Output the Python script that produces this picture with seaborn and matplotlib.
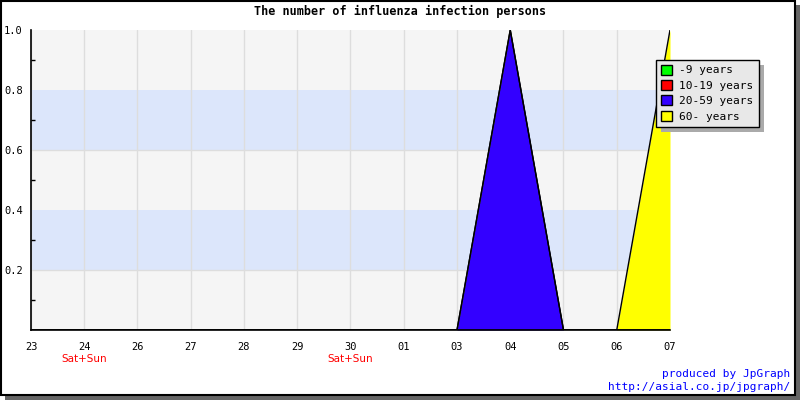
import numpy as np
import pandas as pd
import matplotlib
matplotlib.use("Agg")
import matplotlib.pyplot as plt
from matplotlib.patches import Rectangle
import seaborn as sns

days = ["23", "24", "26", "27", "28", "29", "30", "01", "03", "04", "05", "06", "07"]
weekend_labels = ["", "Sat+Sun", "", "", "", "", "Sat+Sun", "", "", "", "", "", ""]
series_names = ["-9 years", "10-19 years", "20-59 years", "60- years"]
age_0_9 = [0, 0, 0, 0, 0, 0, 0, 0, 0, 0, 0, 0, 0]
age_10_19 = [0, 0, 0, 0, 0, 0, 0, 0, 0, 0, 0, 0, 0]
age_20_59 = [0, 0, 0, 0, 0, 0, 0, 0, 0, 1, 0, 0, 0]
age_60 = [0, 0, 0, 0, 0, 0, 0, 0, 0, 0, 0, 0, 1]
colors = ["#00ff00", "#ff0000", "#3300ff", "#ffff00"]
y_ticks = [0.2, 0.4, 0.6, 0.8, 1.0]

sns.set_style("white")
plt.rcParams["font.family"] = ["DejaVu Sans Mono", "DejaVu Sans"]
plt.rcParams.update({"text.color": "black", "xtick.color": "black",
                     "ytick.color": "black", "axes.labelcolor": "black"})

fig = plt.figure(figsize=(8, 4), dpi=100)
fig.patch.set_alpha(0)
W, H = 800, 400
# frame + shadow
fig.patches.append(Rectangle((0, 0), 1, 1, transform=fig.transFigure,
                             facecolor="white", edgecolor="none", zorder=-30))
fig.patches.append(Rectangle((5 / W, 0), 795 / W, 395 / H, transform=fig.transFigure,
                             facecolor="#666666", edgecolor="none", zorder=-20))
fig.patches.append(Rectangle((0.5 / W, 5.5 / H), 794 / W, 394 / H, transform=fig.transFigure,
                             facecolor="white", edgecolor="black", linewidth=1.5, zorder=-10))

ax = fig.add_axes([31 / W, 70 / H, 639 / W, 300 / H])
ax.set_facecolor("#f5f5f5")
x = np.arange(len(days))
ax.set_xlim(0, len(days) - 1)
ax.set_ylim(0, 1.0)

for lo, hi in [(0.2, 0.4), (0.6, 0.8)]:
    ax.axhspan(lo, hi, color="#dce6fb", zorder=0, linewidth=0)
ax.axhline(0.2, color="#dddddd", lw=1, zorder=0.5)
ax.axhline(0.6, color="#dddddd", lw=1, zorder=0.5)
for xi in x:
    ax.axvline(xi, color="#dddddd", lw=1, zorder=0.5)

vals = [age_0_9, age_10_19, age_20_59, age_60]
base = np.zeros(len(days))
for name, v, c in zip(series_names, vals, colors):
    top = base + np.array(v, dtype=float)
    ax.fill_between(x, base, top, color=c, linewidth=0, zorder=2, label=name)
    df = pd.DataFrame({"x": x, "y": top})
    sns.lineplot(data=df, x="x", y="y", color="black", lw=1, ax=ax, zorder=3, legend=False)
    base = top

for s in ["top", "right"]:
    ax.spines[s].set_visible(False)
for s in ["left", "bottom"]:
    ax.spines[s].set_color("black")
    ax.spines[s].set_linewidth(1.2)
    ax.spines[s].set_zorder(4)

ax.set_xticks(x)
ax.set_xticklabels(days, fontsize=7.5)
ax.set_yticks(y_ticks)
ax.set_yticklabels([f"{t:.1f}" for t in y_ticks], fontsize=7.5)
ax.set_yticks(np.arange(0.1, 1.0, 0.2), minor=True)
ax.tick_params(axis="both", direction="in", length=5, width=1, color="black",
               labelcolor="black", pad=6)
ax.tick_params(axis="y", which="minor", direction="in", length=3, width=1, left=True,
               color="black")
ax.tick_params(axis="x", pad=9)
ax.set_xlabel("")
ax.set_ylabel("")

for xi, lab in zip(x, weekend_labels):
    if lab:
        ax.text(xi, -0.096, lab, color="red", fontsize=7.5, ha="center", va="center",
                transform=ax.get_xaxis_transform(), family="DejaVu Sans")

fig.text(400 / W, 1 - 11 / H, "The number of influenza infection persons",
         ha="center", va="center", fontsize=8.5, fontweight="bold", color="black")

handles = [Rectangle((0, 0), 1, 1, facecolor=c, edgecolor="black") for c in colors]
leg = fig.legend(handles, series_names, loc="upper left",
                 bbox_to_anchor=(650 / W, 1 - 54 / H), fontsize=8, frameon=True,
                 fancybox=False, shadow=False, handlelength=1.0, handleheight=1.0,
                 handletextpad=0.7, labelspacing=0.42, borderpad=0.45)
leg.get_frame().set_facecolor("#e8e8e8")
leg.get_frame().set_edgecolor("black")
leg.get_frame().set_alpha(1)
leg.set_zorder(10)
for t in leg.get_texts():
    t.set_color("black")

fig.canvas.draw()
bb = leg.get_window_extent().transformed(fig.transFigure.inverted())
fig.patches.append(Rectangle((bb.x0 + 5 / W, bb.y0 - 5 / H), bb.width, bb.height,
                             transform=fig.transFigure, facecolor="#aaaaaa",
                             edgecolor="none", zorder=9))

fig.text(790 / W, 1 - 374 / H, "produced by JpGraph", ha="right", va="center",
         color="blue", fontsize=8)
fig.text(790 / W, 1 - 387 / H, "http://asial.co.jp/jpgraph/", ha="right", va="center",
         color="blue", fontsize=8)

fig.savefig("out.png", dpi=100)
